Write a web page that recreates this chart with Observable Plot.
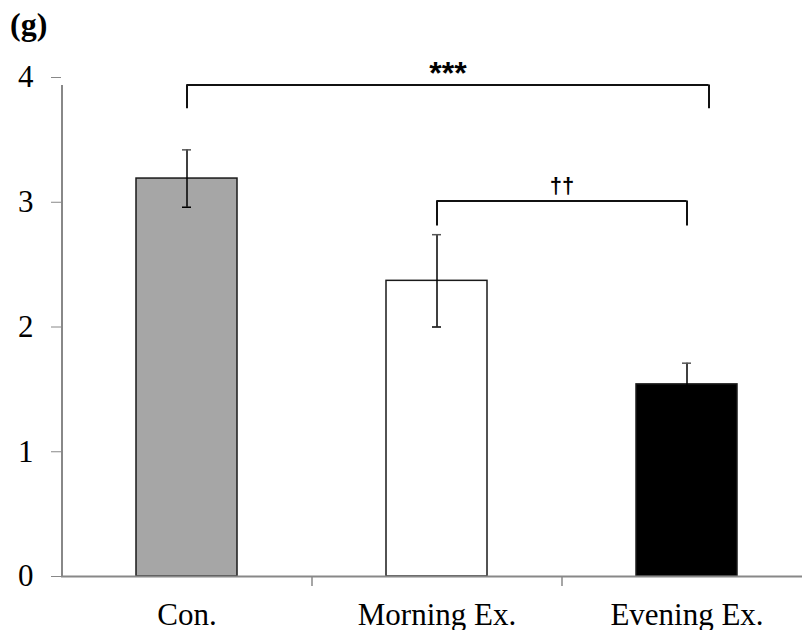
<!DOCTYPE html>
<html><head><meta charset="utf-8">
<script src="https://cdn.jsdelivr.net/npm/d3@7"></script>
<script src="https://cdn.jsdelivr.net/npm/@observablehq/plot@0.6"></script>
<style>
body{margin:0;background:#fff;}
#wrap{position:relative;width:802px;height:630px;}
#panel{position:absolute;left:10px;top:8px;font:bold 32px "Liberation Serif","Times New Roman",serif;line-height:32px;color:#000;}
</style></head><body>
<div id="wrap"><div id="panel">(g)</div></div>
<script>
// ---- data ----
const categories = ["Con.", "Morning Ex.", "Evening Ex."];
const means = [3.19, 2.37, 1.54];
const sems = [0.23, 0.37, 0.17];
const yTicks = [0, 1, 2, 3, 4];
const bracketFrom = ["Con.", "Morning Ex."];
const bracketTo = ["Evening Ex.", "Evening Ex."];
const bracketTop = [3.94, 3.01];
const bracketLeg = [3.75, 2.81];
const bracketLabels = ["***", "\u2020\u2020"];

// ---- layout / style ----
const W = 802, H = 630;
const xLeft = 61, step = 250, pad = 0.596;
const bandwidth = step * (1 - pad);
const capInset = (bandwidth - 9) / 2;
const serif = '"Liberation Serif","Times New Roman",serif';
const sans = '"Liberation Sans",Arial,sans-serif';
const rightExt = [22, 0];   // hand-placed extension of bracket right end (px)
const labelStyle = [
  {fontSize: 32, ls: 3, dy: -11},
  {fontSize: 22, ls: 6, dy: -15}
];

const data = categories.map((c, i) => ({cat: c, mean: means[i], lo: means[i] - sems[i], hi: means[i] + sems[i]}));

const bracketMarks = [];
bracketFrom.forEach((f, i) => {
  const t = bracketTo[i];
  bracketMarks.push(
    Plot.ruleY([i], {x1: () => f, x2: () => t, y: () => bracketTop[i], insetLeft: bandwidth / 2, insetRight: bandwidth / 2 - rightExt[i], stroke: "#111", strokeWidth: 2}),
    Plot.ruleX([i], {x: () => f, y1: () => bracketLeg[i], y2: () => bracketTop[i], stroke: "#111", strokeWidth: 2}),
    Plot.ruleX([i], {x: () => t, y1: () => bracketLeg[i], y2: () => bracketTop[i], dx: rightExt[i], stroke: "#111", strokeWidth: 2}),
    Plot.text([i], {
      x: () => f, y: () => bracketTop[i], text: () => bracketLabels[i],
      dx: (step * (categories.indexOf(t) - categories.indexOf(f)) + rightExt[i]) / 2,
      dy: labelStyle[i].dy,
      fontSize: labelStyle[i].fontSize, fontFamily: sans, fontWeight: "bold", fill: "#000",
      style: {letterSpacing: labelStyle[i].ls + "px"}
    })
  );
});

const chart = Plot.plot({
  width: W,
  height: H,
  marginLeft: xLeft,
  marginRight: 0,
  marginTop: 77,
  marginBottom: 54,
  style: {background: "#fff", color: "#000", overflow: "visible"},
  x: {domain: categories, range: [xLeft, xLeft + step * categories.length], paddingInner: pad, paddingOuter: pad / 2, label: null},
  y: {domain: [0, 4], label: null},
  color: {domain: categories, range: ["#a6a6a6", "#ffffff", "#000000"]},
  marks: [
    Plot.barY(data, {x: "cat", y: "mean", fill: "cat", stroke: "#1a1a1a", strokeWidth: 1.5}),
    Plot.ruleX(data, {x: "cat", y1: "lo", y2: "hi", stroke: "#000", strokeWidth: 1.5}),
    Plot.tickY(data, {x: "cat", y: "hi", insetLeft: capInset, insetRight: capInset, stroke: "#555", strokeWidth: 1.5}),
    Plot.tickY(data, {x: "cat", y: "lo", insetLeft: capInset, insetRight: capInset, stroke: "#000", strokeWidth: 1.5}),
    Plot.ruleY([0], {stroke: "#888", strokeWidth: 2}),
    // y-axis line (left edge of first band step)
    Plot.ruleX([categories[0]], {x: d => d, y1: 0, y2: yTicks[yTicks.length - 1], dx: -step / 2, insetBottom: -8, stroke: "#888", strokeWidth: 2}),
    // category separator ticks below the axis
    Plot.ruleX(categories.slice(0, -1), {x: d => d, y1: 0, y2: 0, insetBottom: -10, dx: step / 2, stroke: "#888", strokeWidth: 1.5}),
    Plot.axisY({ticks: yTicks, tickFormat: d => String(d), tickSize: 10, tickPadding: 18, fontSize: 31, fontFamily: serif, stroke: "#888", fill: "#000", label: null}),
    Plot.axisX({tickSize: 0, tickPadding: 26, fontSize: 31, fontFamily: serif, fill: "#000", label: null}),
    ...bracketMarks
  ]
});
document.getElementById("wrap").prepend(chart);
</script>
</body></html>
